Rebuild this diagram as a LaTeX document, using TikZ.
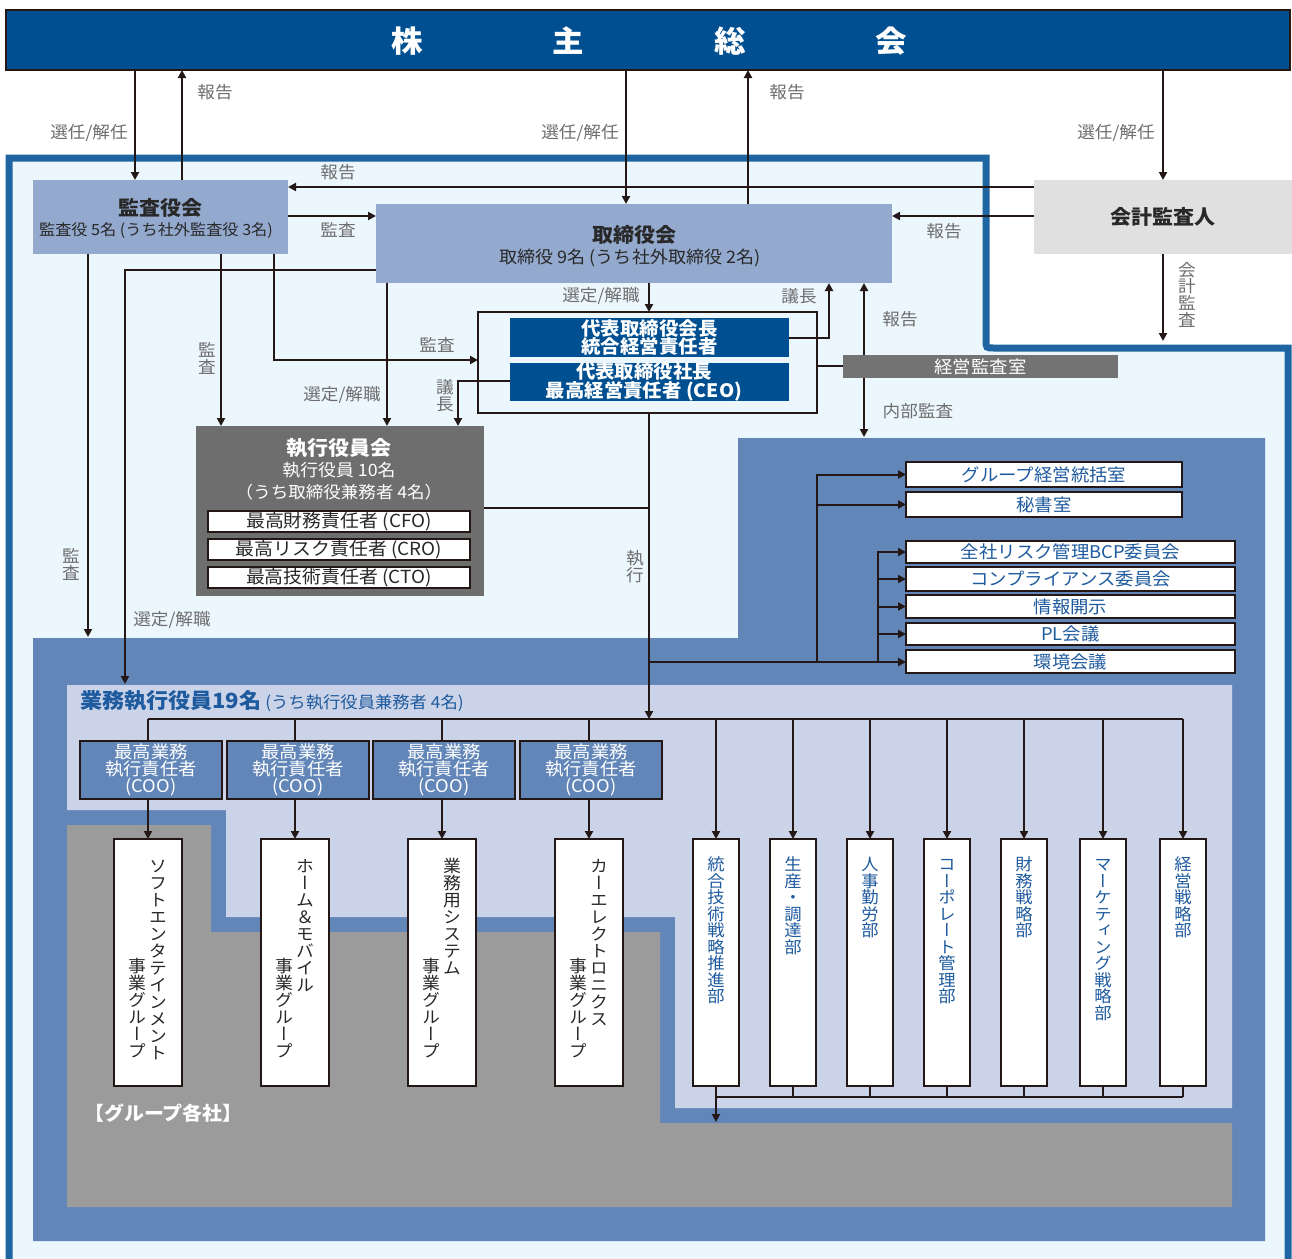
\documentclass[tikz,border=0pt]{standalone}
\usepackage{fontspec}
\setmainfont{Noto Sans CJK JP}[FakeStretch=1.05]
\newfontfamily\jpv{Noto Sans CJK JP}[FakeStretch=1.05,RawFeature=+vert]
\usetikzlibrary{arrows.meta}
\definecolor{topblue}{RGB}{0,79,145}
\definecolor{framec}{RGB}{31,101,162}
\definecolor{lightbg}{RGB}{235,246,253}
\definecolor{board}{RGB}{148,169,206}
\definecolor{auditor}{RGB}{224,224,224}
\definecolor{midblue}{RGB}{98,134,184}
\definecolor{lav}{RGB}{203,211,232}
\definecolor{grayreg}{RGB}{155,155,155}
\definecolor{execgray}{RGB}{110,110,110}
\definecolor{shitsugray}{RGB}{115,115,115}
\definecolor{labgray}{RGB}{110,110,110}
\definecolor{txtblue}{RGB}{30,90,158}
\definecolor{linec}{RGB}{35,24,21}
\definecolor{dtext}{RGB}{40,40,40}
\newcommand\fsz[1]{\fontsize{#1}{#1}\selectfont}
\def\vtend{\vtend}
\def\vtloop#1{\ifx\vtend#1\else\hbox to 1em{\hss\vrule width0pt height.88em depth.12em\relax#1\hss}\expandafter\vtloop\fi}
\newcommand\myvert[1]{{\jpv\vbox{\offinterlineskip\vtloop#1\vtend}}}
\tikzset{
 conn/.style={draw=linec, line width=2pt},
 arr/.style={conn, -{Triangle[length=8pt,width=8pt]}},
 boxbase/.style={anchor=north west, inner sep=0pt, outer sep=0pt},
 wbox/.style={boxbase, fill=white, draw=linec, line width=2.5pt},
 lab/.style={text=labgray, font=\fsz{16.8}, inner sep=0pt},
 ttl/.style={text=dtext, font=\bfseries\fsz{20}, inner sep=0pt},
 sub/.style={text=dtext, font=\fsz{16}, inner sep=0pt},
 cbox/.style={wbox, minimum width=276pt, text=txtblue, font=\fsz{17.5}},
 cboxw/.style={wbox, minimum width=329pt, text=txtblue, font=\fsz{17.5}},
 exbox/.style={wbox, minimum width=262pt, minimum height=21pt, text=dtext, font=\fsz{18}},
 coo/.style={boxbase, fill=midblue, draw=linec, line width=2.5pt, minimum width=142pt, minimum height=58pt, text=white, align=center, font=\fontsize{17.5}{16}\selectfont},
 gbox/.style={wbox, minimum width=68pt, minimum height=247pt},
 dbox/.style={wbox, minimum width=46pt, minimum height=247pt},
 gtxt/.style={anchor=north, inner sep=0pt, text=dtext, font=\fsz{17}},
 dtxt/.style={anchor=north, inner sep=0pt, text=txtblue, font=\fsz{16.5}},
}
\begin{document}
\begin{tikzpicture}[x=1pt,y=-1pt]
\useasboundingbox (0,0) rectangle (1292,1258);
\fill[white] (0,0) rectangle (1292,1258);
% outer frame
\fill[lightbg] (9,158) -- (986,158) -- (986,348) -- (1288,348) -- (1288,1270) -- (9,1270) -- cycle;
\draw[framec, line width=7pt] (9,1270) -- (9,158) -- (986,158) -- (986,340) .. controls (986,348) .. (994,348) -- (1288,348) -- (1288,1270);
% regions
\fill[midblue] (33,638) -- (738,638) -- (738,438) -- (1265,438) -- (1265,1241) -- (33,1241) -- cycle;
\fill[lav] (67,685) -- (1232,685) -- (1232,1108) -- (675,1108) -- (675,917) -- (226,917) -- (226,810) -- (67,810) -- cycle;
\fill[grayreg] (67,825) -- (211,825) -- (211,932) -- (660,932) -- (660,1123) -- (1232,1123) -- (1232,1207) -- (67,1207) -- cycle;

% top bar
\node[boxbase, fill=topblue, draw=linec, line width=2pt, minimum width=1284pt, minimum height=60pt] (top) at (6,10) {};
\node[text=white, font=\bfseries\fsz{30}, inner sep=0pt] (topT) at (649,41) {株\hspace{130pt}主\hspace{130pt}総\hspace{130pt}会};

% boards
\node[boxbase, fill=board, minimum width=255pt, minimum height=74pt] (kansa) at (33,180) {};
\node[ttl] (kansaT1) at (160,208) {監査役会};
\node[sub, font=\fsz{15.4}] (kansaT2) at (156,231) {監査役 5名 (うち社外監査役 3名)};
\node[boxbase, fill=board, minimum width=516pt, minimum height=79pt] (tori) at (376,204) {};
\node[ttl] (toriT1) at (634,235) {取締役会};
\node[sub, font=\fsz{17.2}] (toriT2) at (630,258) {取締役 9名 (うち社外取締役 2名)};
\node[boxbase, fill=auditor, minimum width=258pt, minimum height=74pt, text=dtext, font=\bfseries\fsz{20}] (kaikei) at (1034,180) {会計監査人};

% representative frame
\node[boxbase, draw=linec, line width=2.5pt, minimum width=339pt, minimum height=101pt] (daihyo) at (478,312) {};
\node[boxbase, fill=topblue, minimum width=279pt, minimum height=39pt] (chair) at (510,318) {};
\node[text=white, font=\bfseries\fontsize{18.5}{17}\selectfont, align=center, inner sep=0pt] (chairT) at (649.5,337.5) {代表取締役会長\\統合経営責任者};
\node[boxbase, fill=topblue, minimum width=279pt, minimum height=38pt] (ceo) at (510,363) {};
\node[text=white, font=\bfseries\fontsize{18.5}{17}\selectfont, align=center, inner sep=0pt] (ceoT) at (644,382) {代表取締役社長\\最高経営責任者 (CEO)};
\node[boxbase, fill=shitsugray, minimum width=275pt, minimum height=23pt, text=white, font=\fsz{17.5}] (shitsu) at (843,355) {経営監査室};

% executive committee
\node[boxbase, fill=execgray, minimum width=288pt, minimum height=170pt] (shikko) at (196,426) {};
\node[ttl, text=white] (shikkoT1) at (339,448) {執行役員会};
\node[sub, text=white, font=\fsz{17}] (shikkoT2) at (339,470) {執行役員 10名};
\node[sub, text=white, font=\fsz{16.7}] (shikkoT3) at (339,492) {（うち取締役兼務者 4名）};
\node[exbox] (cfo) at (208,511) {最高財務責任者 (CFO)};
\node[exbox] (cro) at (208,539) {最高リスク責任者 (CRO)};
\node[exbox] (cto) at (208,567) {最高技術責任者 (CTO)};

% committees
\node[cbox, minimum height=25pt] (gl) at (906,462) {グループ経営統括室};
\node[cbox, minimum height=25pt] (hisho) at (906,492) {秘書室};
\node[cboxw, minimum height=22pt] (risk) at (906,541) {全社リスク管理BCP委員会};
\node[cboxw, minimum height=24pt] (comp) at (906,567) {コンプライアンス委員会};
\node[cboxw, minimum height=23pt] (joho) at (906,595) {情報開示};
\node[cboxw, minimum height=22pt] (pl) at (906,623) {PL会議};
\node[cboxw, minimum height=23pt] (kankyo) at (906,650) {環境会議};

% business execution officers
\node[anchor=west, inner sep=0pt, text=txtblue] (gyomuT) at (80,701) {{\bfseries\fsz{21}業務執行役員19名}{\fsz{16.5} (うち執行役員兼務者 4名)}};
\node[coo] (coo1) at (80,741) {最高業務\\執行責任者\\(COO)};
\node[coo] (coo2) at (227,741) {最高業務\\執行責任者\\(COO)};
\node[coo] (coo3) at (373,741) {最高業務\\執行責任者\\(COO)};
\node[coo] (coo4) at (520,741) {最高業務\\執行責任者\\(COO)};

% groups
\node[gbox] (g1) at (114,839) {};
\node[gbox] (g2) at (261,839) {};
\node[gbox] (g3) at (408,839) {};
\node[gbox] (g4) at (555,839) {};
\node[gtxt] (g1a) at (158,857) {\myvert{ソフトエンタテインメント}};
\node[gtxt] (g1b) at (137,957) {\myvert{事業グループ}};
\node[gtxt] (g2a) at (305,857) {\myvert{ホーム＆モバイル}};
\node[gtxt] (g2b) at (284,957) {\myvert{事業グループ}};
\node[gtxt] (g3a) at (452,857) {\myvert{業務用システム}};
\node[gtxt] (g3b) at (431,957) {\myvert{事業グループ}};
\node[gtxt] (g4a) at (599,857) {\myvert{カーエレクトロニクス}};
\node[gtxt] (g4b) at (578,957) {\myvert{事業グループ}};
\node[anchor=west, inner sep=0pt, text=white, font=\bfseries\fsz{19}] (kakusha) at (84,1113) {【グループ各社】};

% departments
\node[dbox] (d1) at (693,839) {};
\node[dbox] (d2) at (770,839) {};
\node[dbox] (d3) at (847,839) {};
\node[dbox] (d4) at (924,839) {};
\node[dbox] (d5) at (1001,839) {};
\node[dbox] (d6) at (1080,839) {};
\node[dbox] (d7) at (1160,839) {};
\node[dtxt] (d1t) at (d1.north |- 0,856) {\myvert{統合技術戦略推進部}};
\node[dtxt] (d2t) at (d2.north |- 0,856) {\myvert{生産・調達部}};
\node[dtxt] (d3t) at (d3.north |- 0,856) {\myvert{人事勤労部}};
\node[dtxt] (d4t) at (d4.north |- 0,856) {\myvert{コーポレート管理部}};
\node[dtxt] (d5t) at (d5.north |- 0,856) {\myvert{財務戦略部}};
\node[dtxt] (d6t) at (d6.north |- 0,856) {\myvert{マーケティング戦略部}};
\node[dtxt] (d7t) at (d7.north |- 0,856) {\myvert{経営戦略部}};

% free-end coordinates
\coordinate (kaikeiEnd) at (1163,341);
\coordinate (auditEnd) at (88,637);
\coordinate (lavTop) at (125,684);
\coordinate (naibuEnd) at (864,437);
\coordinate (busTop) at (649,719);
\coordinate (j1) at (649,508);
\coordinate (j2) at (649,662);
\coordinate (j3) at (817,662);
\coordinate (j4) at (878,662);
\coordinate (bb) at (716,1097);
\coordinate (grpEnd) at (716,1122);

% connectors: shareholders
\draw[arr] (top.south -| 135,0) -- (kansa.north -| 135,0);
\draw[arr] (kansa.north -| 182,0) -- (top.south -| 182,0);
\draw[arr] (top.south -| 626,0) -- (tori.north -| 626,0);
\draw[arr] (tori.north -| 748,0) -- (top.south -| 748,0);
\draw[arr] (top.south -| kaikei.north) -- (kaikei.north);
% boards
\draw[arr] (kaikei.west |- 0,187) -- (kansa.east |- 0,187);
\draw[arr] (kansa.east |- 0,216) -- (tori.west |- 0,216);
\draw[arr] (kaikei.west |- 0,216) -- (tori.east |- 0,216);
\draw[arr] (kaikei.south) -- (kaikeiEnd);
\draw[arr] (kansa.south -| 88,0) -- (auditEnd);
\draw[arr] (kansa.south -| 221,0) -- (shikko.north -| 221,0);
\draw[arr] (kansa.south -| 274,0) |- (daihyo.west |- 0,360);
\draw[arr] (tori.west |- 0,270) -| (lavTop);
\draw[arr] (tori.south -| 387,0) -- (shikko.north -| 387,0);
\draw[arr] (tori.south -| 649,0) -- (daihyo.north -| 649,0);
\draw[arr] (chair.east |- 0,338) -| (tori.south -| 829,0);
\draw[arr] (ceo.west |- 0,381) -| (shikko.north -| 458,0);
\draw[arr] (shitsu.north -| 864,0) -- (tori.south -| 864,0);
\draw[arr] (shitsu.south -| 864,0) -- (naibuEnd);
\draw[conn] (daihyo.east |- 0,366) -- (shitsu.west |- 0,366);
\draw[arr] (daihyo.south -| 649,0) -- (busTop);
\draw[conn] (shikko.east |- j1) -- (j1);
% committees
\draw[arr] (j2) -- (kankyo.west |- j2);
\draw[arr] (j3) |- (gl.west);
\draw[arr] (hisho.west -| j3) -- (hisho.west);
\draw[arr] (j4) |- (risk.west);
\draw[arr] (comp.west -| j4) -- (comp.west);
\draw[arr] (joho.west -| j4) -- (joho.west);
\draw[arr] (pl.west -| j4) -- (pl.west);
% bus
\draw[conn] (g1.north |- busTop) -- (d7.north |- busTop);
\foreach \g/\c in {g1/coo1,g2/coo2,g3/coo3,g4/coo4}{
  \draw[conn] (\g.north |- busTop) -- (\g.north |- \c.north);
  \draw[arr] (\g.north |- \c.south) -- (\g.north);
}
\foreach \d in {d1,d2,d3,d4,d5,d6,d7}{
  \draw[arr] (\d.north |- busTop) -- (\d.north);
  \draw[conn] (\d.south) -- (\d.south |- bb);
}
\draw[conn] (d1.south |- bb) -- (d7.south |- bb);
\draw[arr] (bb) -- (grpEnd);

% labels
\node[lab] (l1) at (89,133) {選任/解任};
\node[lab] (l2) at (215,92) {報告};
\node[lab] (l3) at (580,133) {選任/解任};
\node[lab] (l4) at (787,92) {報告};
\node[lab] (l5) at (1116,133) {選任/解任};
\node[lab] (l6) at (338,172) {報告};
\node[lab] (l7) at (338,230) {監査};
\node[lab] (l8) at (944,231) {報告};
\node[lab] (l9) at (1187,295) {\myvert{会計監査}};
\node[lab] (l10) at (207,359) {\myvert{監査}};
\node[lab] (l11) at (437,345) {監査};
\node[lab] (l12) at (342,395) {選定/解職};
\node[lab] (l13) at (445,396) {\myvert{議長}};
\node[lab] (l14) at (601,296) {選定/解職};
\node[lab] (l15) at (799,296) {議長};
\node[lab] (l16) at (900,319) {報告};
\node[lab] (l17) at (918,411) {内部監査};
\node[lab] (l18) at (635,567) {\myvert{執行}};
\node[lab] (l19) at (71,565) {\myvert{監査}};
\node[lab] (l20) at (172,620) {選定/解職};
\end{tikzpicture}
\end{document}
